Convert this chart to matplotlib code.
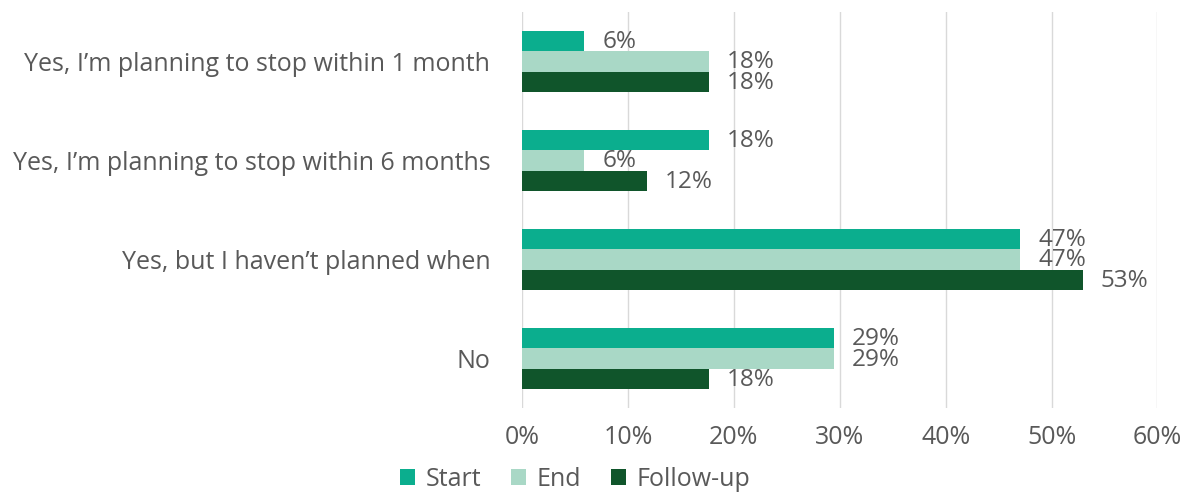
import matplotlib.pyplot as plt
import numpy as np

plt.rcParams['font.family'] = ['Open Sans', 'DejaVu Sans']

categories = ['Yes, I\u2019m planning to stop within 1 month',
              'Yes, I\u2019m planning to stop within 6 months',
              'Yes, but I haven\u2019t planned when',
              'No']
series = ['Start', 'End', 'Follow-up']
# shares of 17 respondents
start = [1 / 17, 3 / 17, 8 / 17, 5 / 17]
end = [3 / 17, 1 / 17, 8 / 17, 5 / 17]
follow_up = [3 / 17, 2 / 17, 9 / 17, 3 / 17]
colors = ['#0BAE8E', '#A9D8C6', '#10552B']

text_color = '#595959'
fs = 18

fig = plt.figure(figsize=(11.92, 4.97), dpi=100)
ax = fig.add_axes([0.438, 0.179, 0.533, 0.797])

y = np.arange(len(categories))
h = 0.205
for k, (vals, c, name) in enumerate(zip([start, end, follow_up], colors, series)):
    pos = y + (k - 1) * h
    ax.barh(pos, vals, height=h, color=c, label=name, zorder=3)
    for p, v in zip(pos, vals):
        ax.text(v + 0.017, p + 0.01, f'{v * 100:.0f}%', va='center', ha='left',
                fontsize=17.5, color=text_color)

ax.set_ylim(len(categories) - 0.5, -0.5)
ax.set_xlim(0, 0.6)
ax.set_xticks(np.arange(0, 0.61, 0.1))
ax.set_xticklabels([f'{t}%' for t in range(0, 61, 10)])
ax.set_yticks(y)
ax.set_yticklabels(categories)
ax.tick_params(axis='both', length=0, labelsize=fs, labelcolor=text_color)
ax.tick_params(axis='x', pad=12)
ax.tick_params(axis='y', pad=23)
ax.grid(axis='x', color='#D9D9D9', linewidth=1, zorder=0)
for s in ax.spines.values():
    s.set_visible(False)

handles, labels = ax.get_legend_handles_labels()
fig.legend(handles, labels, loc='lower center', bbox_to_anchor=(575 / 1192, -0.035),
           ncol=3, frameon=False, fontsize=fs, handlelength=0.62, handleheight=0.62,
           columnspacing=1.2, handletextpad=0.4, labelcolor=text_color)

fig.savefig('out.png', dpi=100)
